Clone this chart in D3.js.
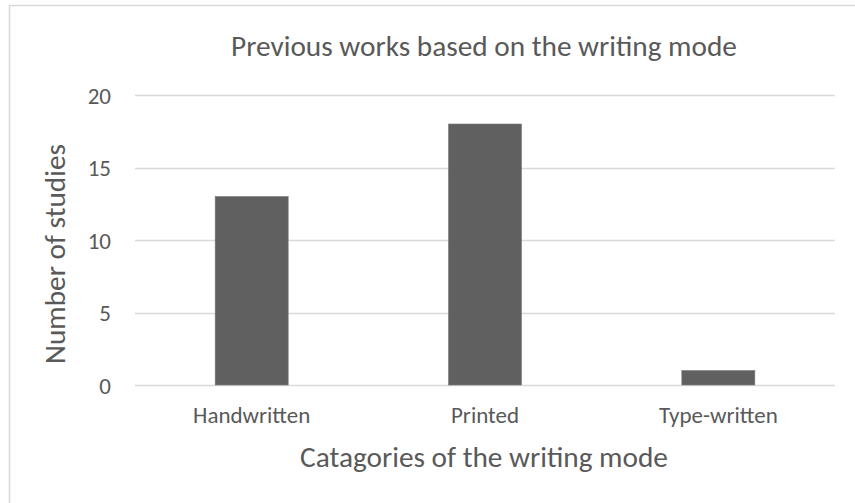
<!DOCTYPE html>
<html>
<head>
<meta charset="utf-8">
<script src="https://cdn.jsdelivr.net/npm/d3@7"></script>
<style>
  html, body { margin: 0; padding: 0; background: #fff; }
  svg text { font-family: Carlito, Calibri, Lato, "Open Sans", sans-serif; fill: #595959; }
</style>
</head>
<body>
<svg id="chart" width="855" height="503"></svg>
<script>
// Number of studies per writing mode
const categories = ["Handwritten", "Printed", "Type-written"];
const studies = [13, 18, 1];
const yTicks = [0, 5, 10, 15, 20];

const svg = d3.select("#chart");
const W = 855, H = 503;
const plot = { left: 135, right: 835, top: 95, bottom: 385 };

// chart frame
svg.append("rect")
  .attr("x", 9.5).attr("y", 5.5)
  .attr("width", W + 10).attr("height", H + 10)
  .attr("fill", "#fff").attr("stroke", "#d9d9d9").attr("stroke-width", 1.5);

const x = d3.scaleBand()
  .domain(categories)
  .range([plot.left, plot.right])
  .paddingInner(0.687)
  .paddingOuter(0.687 / 2);

const y = d3.scaleLinear().domain([0, 20]).range([plot.bottom, plot.top]);

// gridlines
svg.append("g").selectAll("line").data(yTicks).join("line")
  .attr("x1", plot.left).attr("x2", plot.right)
  .attr("y1", d => Math.round(y(d)) + 0.5).attr("y2", d => Math.round(y(d)) + 0.5)
  .attr("stroke", "#d9d9d9").attr("stroke-width", 1.3);

// y axis labels
const yAxis = d3.axisLeft(y).tickValues(yTicks).tickSize(0).tickPadding(0);
const gy = svg.append("g").attr("transform", `translate(${plot.left - 24},0)`).call(yAxis);
gy.select(".domain").remove();
gy.selectAll("text").attr("font-size", 23).style("font-family", null).attr("dy", "0.35em");

// bars
svg.append("g").selectAll("rect").data(studies).join("rect")
  .attr("x", (d, i) => x(categories[i]))
  .attr("y", d => y(d))
  .attr("width", x.bandwidth())
  .attr("height", d => y(0) - y(d))
  .attr("fill", "#606060")
  .attr("stroke", "#7a7a7a").attr("stroke-width", 0.6);

// x axis labels
const xAxis = d3.axisBottom(x).tickSize(0).tickPadding(0);
const gx = svg.append("g").attr("transform", `translate(0,${plot.bottom + 38})`).call(xAxis);
gx.select(".domain").remove();
gx.selectAll("text").attr("font-size", 23).attr("dy", 0).style("font-family", null);

// title
svg.append("text")
  .attr("x", 484).attr("y", 56)
  .attr("text-anchor", "middle")
  .attr("font-size", 29.3)
  .text("Previous works based on the writing mode");

// axis titles
svg.append("text")
  .attr("x", 484).attr("y", 467)
  .attr("text-anchor", "middle")
  .attr("font-size", 29.3)
  .text("Catagories of the writing mode");

svg.append("text")
  .attr("transform", "translate(65,254) rotate(-90)")
  .attr("text-anchor", "middle")
  .attr("font-size", 29.3)
  .text("Number of studies");
</script>
</body>
</html>
